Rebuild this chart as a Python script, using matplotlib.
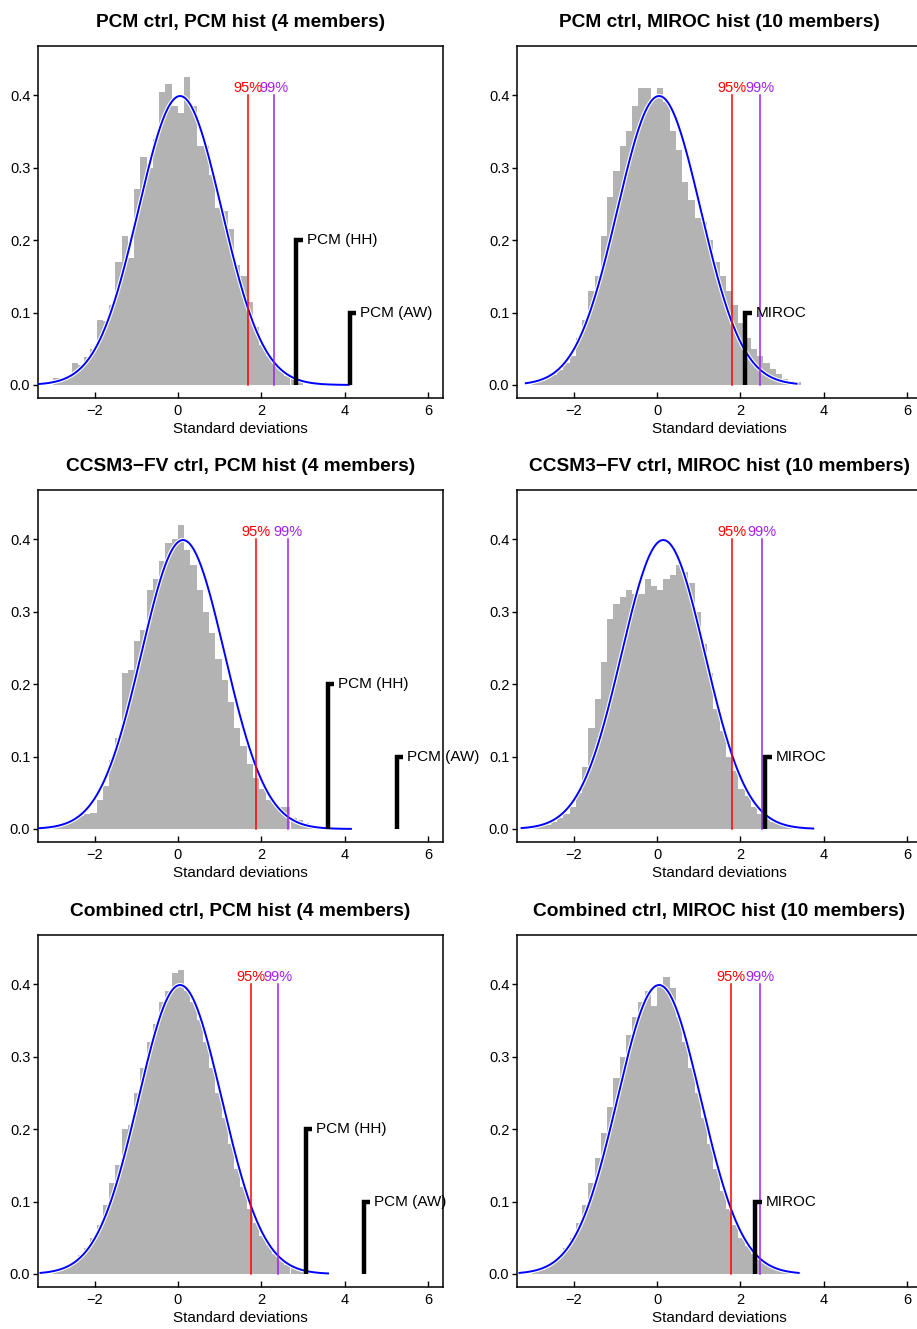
import numpy as np
import matplotlib
matplotlib.use("Agg")
import matplotlib.pyplot as plt

plt.rcParams['font.family'] = ['Liberation Sans', 'DejaVu Sans']

# panel titles (row by row, left then right)
titles = [
    "PCM ctrl, PCM hist (4 members)",
    "PCM ctrl, MIROC hist (10 members)",
    "CCSM3\u2212FV ctrl, PCM hist (4 members)",
    "CCSM3\u2212FV ctrl, MIROC hist (10 members)",
    "Combined ctrl, PCM hist (4 members)",
    "Combined ctrl, MIROC hist (10 members)",
]

# histogram densities, bins of width 0.15 starting at -3.0
bin_start = -3.0
bin_width = 0.15

hist1 = [0.010, 0.006, 0.012, 0.030, 0.028, 0.038, 0.050, 0.090, 0.088, 0.110,
         0.170, 0.205, 0.175, 0.270, 0.315, 0.300, 0.340, 0.405, 0.415, 0.385,
         0.375, 0.425, 0.385, 0.330, 0.330, 0.290, 0.245, 0.240, 0.215, 0.165,
         0.150, 0.115, 0.080, 0.055, 0.040, 0.030, 0.020, 0.012, 0.008, 0.004]
hist2 = [0.003, 0.006, 0.010, 0.014, 0.020, 0.030, 0.040, 0.065, 0.090, 0.130,
         0.150, 0.205, 0.260, 0.295, 0.330, 0.350, 0.385, 0.410, 0.410, 0.395,
         0.410, 0.390, 0.350, 0.325, 0.280, 0.255, 0.230, 0.225, 0.200, 0.170,
         0.150, 0.130, 0.110, 0.085, 0.065, 0.050, 0.040, 0.030, 0.022, 0.015,
         0.008, 0.005, 0.004]
hist3 = [0.003, 0.005, 0.008, 0.012, 0.018, 0.020, 0.022, 0.040, 0.060, 0.095,
         0.125, 0.215, 0.220, 0.260, 0.275, 0.330, 0.345, 0.370, 0.395, 0.400,
         0.420, 0.385, 0.365, 0.330, 0.300, 0.270, 0.235, 0.205, 0.175, 0.140,
         0.115, 0.090, 0.070, 0.055, 0.040, 0.035, 0.030, 0.030, 0.015, 0.012,
         0.008, 0.006, 0.004, 0.003, 0.002, 0.002, 0.002]
hist4 = [0.002, 0.004, 0.006, 0.010, 0.015, 0.020, 0.030, 0.050, 0.085, 0.140,
         0.180, 0.230, 0.290, 0.310, 0.320, 0.330, 0.325, 0.325, 0.345, 0.335,
         0.330, 0.345, 0.350, 0.365, 0.355, 0.340, 0.300, 0.255, 0.215, 0.165,
         0.135, 0.100, 0.080, 0.055, 0.045, 0.030, 0.020, 0.015, 0.010, 0.007,
         0.005, 0.004, 0.003, 0.002, 0.002]
hist5 = [0.004, 0.007, 0.012, 0.018, 0.026, 0.036, 0.050, 0.068, 0.095, 0.125,
         0.150, 0.200, 0.205, 0.250, 0.285, 0.320, 0.345, 0.375, 0.390, 0.415,
         0.420, 0.390, 0.375, 0.350, 0.320, 0.285, 0.250, 0.215, 0.180, 0.145,
         0.120, 0.090, 0.070, 0.052, 0.040, 0.028, 0.020, 0.013, 0.009, 0.006,
         0.004, 0.003, 0.002, 0.002]
hist6 = [0.003, 0.006, 0.010, 0.017, 0.025, 0.036, 0.050, 0.070, 0.095, 0.125,
         0.160, 0.195, 0.230, 0.270, 0.300, 0.330, 0.355, 0.375, 0.390, 0.370,
         0.400, 0.410, 0.395, 0.355, 0.320, 0.285, 0.250, 0.215, 0.180, 0.145,
         0.115, 0.090, 0.068, 0.050, 0.038, 0.028, 0.020, 0.014, 0.010, 0.007,
         0.005, 0.003, 0.002]
hists = [hist1, hist2, hist3, hist4, hist5, hist6]

# fitted normal curve: mean, sd and drawn range
curve_mean = [0.05, 0.05, 0.12, 0.15, 0.05, 0.05]
curve_sd = [1.0, 1.0, 1.0, 1.0, 1.0, 1.0]
curve_lo = [-3.36, -3.15, -3.36, -3.25, -3.30, -3.30]
curve_hi = [4.10, 3.35, 4.15, 3.75, 3.60, 3.40]

# significance thresholds
q95 = [1.69, 1.81, 1.88, 1.81, 1.76, 1.78]
q99 = [2.31, 2.46, 2.63, 2.51, 2.41, 2.48]

# observed signals: (value, height, label)
obs = [
    [(2.84, 0.2, "PCM (HH)"), (4.12, 0.1, "PCM (AW)")],
    [(2.12, 0.1, "MIROC")],
    [(3.59, 0.2, "PCM (HH)"), (5.25, 0.1, "PCM (AW)")],
    [(2.60, 0.1, "MIROC")],
    [(3.06, 0.2, "PCM (HH)"), (4.46, 0.1, "PCM (AW)")],
    [(2.36, 0.1, "MIROC")],
]

W, H = 917, 1329
fig = plt.figure(figsize=(W / 100, H / 100), dpi=100)

col_left = [38, 517]
row_top = [46, 490, 935]
ax_w, ax_h = 405, 352

for k in range(6):
    r, c = divmod(k, 2)
    x0 = col_left[c]
    y1 = row_top[r] + ax_h
    ax = fig.add_axes([x0 / W, 1 - y1 / H, ax_w / W, ax_h / H])

    vals = hists[k]
    edges = bin_start + bin_width * np.arange(len(vals))
    ax.bar(edges, vals, width=bin_width, align='edge', color='#B3B3B3',
           linewidth=0, zorder=1)

    xs = np.linspace(curve_lo[k], curve_hi[k], 400)
    ys = np.exp(-0.5 * ((xs - curve_mean[k]) / curve_sd[k]) ** 2) / (curve_sd[k] * np.sqrt(2 * np.pi))
    ax.plot(xs, ys, color='white', lw=3.0, zorder=2)
    ax.plot(xs, ys, color='#0000FF', lw=1.4, zorder=3)

    ax.plot([q95[k], q95[k]], [0, 0.4], color='#FF0000', lw=1.1, zorder=4)
    ax.plot([q99[k], q99[k]], [0, 0.4], color='#A020F0', lw=1.1, zorder=4)
    ax.text(q95[k], 0.4, "95%", color='#FF0000', ha='center', va='bottom',
            fontsize=10.5, zorder=5)
    ax.text(q99[k], 0.4, "99%", color='#A020F0', ha='center', va='bottom',
            fontsize=10.5, zorder=5)

    for val, hgt, lab in obs[k]:
        ax.plot([val, val, val + 0.15], [0, hgt, hgt], color='black', lw=3.2,
                solid_joinstyle='miter', solid_capstyle='butt', zorder=6)
        ax.text(val + 0.25, hgt, lab, ha='left', va='center', fontsize=11,
                zorder=7, clip_on=False)

    ax.set_xlim(-3.36, 6.36)
    ax.set_ylim(-0.018, 0.468)
    ax.set_xticks([-2, 0, 2, 4, 6])
    ax.set_xticklabels(["\u22122", "0", "2", "4", "6"])
    ax.set_yticks([0.0, 0.1, 0.2, 0.3, 0.4])
    ax.set_yticklabels(["0.0", "0.1", "0.2", "0.3", "0.4"])
    ax.tick_params(axis='x', direction='in', length=4.5, width=1, labelsize=10.5, pad=4)
    ax.tick_params(axis='y', direction='out', length=3.5, width=1, labelsize=10.5, pad=2)
    for s in ax.spines.values():
        s.set_linewidth(1.1)
    ax.set_xlabel("Standard deviations", fontsize=11, labelpad=3)
    ax.set_title(titles[k], fontsize=13.8, fontweight='bold', pad=14)

fig.savefig("out.png", dpi=100)
